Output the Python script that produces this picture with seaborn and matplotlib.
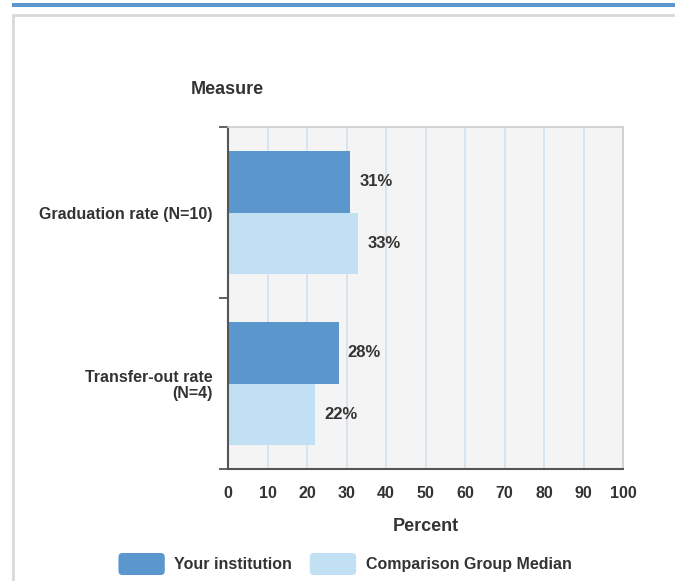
import numpy as np
import pandas as pd
import matplotlib
matplotlib.use("Agg")
import matplotlib.pyplot as plt
import seaborn as sns
from matplotlib.patches import Rectangle, FancyBboxPatch
from matplotlib.lines import Line2D
from matplotlib.legend_handler import HandlerPatch

# ─────────────────────────────────────────────
# Data
# ─────────────────────────────────────────────
MEASURES = ["Graduation rate (N=10)", "Transfer-out rate\n(N=4)"]
SERIES = ["Your institution", "Comparison Group Median"]
YOUR_VALUES = [31, 28]
COMPARISON_VALUES = [33, 22]
X_TICKS = [0, 10, 20, 30, 40, 50, 60, 70, 80, 90, 100]

COLORS = ["#5b96cc", "#c2e0f4"]
TEXT = "#333333"

df = pd.DataFrame({
    "Measure": MEASURES * 2,
    "Group": [SERIES[0]] * len(MEASURES) + [SERIES[1]] * len(MEASURES),
    "Percent": YOUR_VALUES + COMPARISON_VALUES,
})

# ─────────────────────────────────────────────
# Plot
# ─────────────────────────────────────────────
sns.set_theme(style="white")
plt.rcParams["font.family"] = ["Liberation Sans", "DejaVu Sans"]
plt.rcParams["font.weight"] = "bold"

fig = plt.figure(figsize=(6.75, 5.81), dpi=100)
ax = fig.add_axes([228 / 675, 1 - 469 / 581, 395 / 675, 342 / 581])
ax.set_facecolor("#f4f4f4")

sns.barplot(data=df, y="Measure", x="Percent", hue="Group",
            palette=COLORS, orient="h", width=0.725, saturation=1,
            edgecolor="none", linewidth=0, legend=False, ax=ax)

ax.set_xlim(0, 100)
ax.set_ylim(1.5, -0.5)
ax.set_xticks(X_TICKS)
ax.set_xticklabels([str(t) for t in X_TICKS], fontsize=11.5, fontweight="bold", color=TEXT)
ax.tick_params(axis="x", length=0, pad=12.5)
for t in X_TICKS[1:-1]:
    ax.axvline(t, color="#d3e3f1", lw=1.2, zorder=0)

ax.set_yticks(range(len(MEASURES)))
ax.set_yticklabels(MEASURES, fontsize=11.5, fontweight="bold", color=TEXT, linespacing=1.05)
ax.tick_params(axis="y", which="major", left=False, length=0, pad=11)
ax.set_yticks([-0.5, 0.5, 1.5], minor=True)
ax.tick_params(axis="y", which="minor", left=True, length=6.5, width=1.3, color="#555555")

ax.set_ylabel("")
ax.set_xlabel("Percent", fontsize=13, fontweight="bold", color=TEXT, labelpad=12)

for side in ["left", "bottom"]:
    ax.spines[side].set_color("#555555")
    ax.spines[side].set_linewidth(1.5)
for side in ["top", "right"]:
    ax.spines[side].set_color("#cccccc")
    ax.spines[side].set_linewidth(1.2)

# value labels
for container in ax.containers:
    ax.bar_label(container, labels=[f"{v:.0f}%" for v in container.datavalues],
                 padding=6.5, fontsize=12, fontweight="bold", color=TEXT)

fig.text(227 / 675, 1 - 89 / 581, "Measure", ha="center", va="center",
         fontsize=13, fontweight="bold", color=TEXT)

# page decoration: top blue band and light frame
fig.patches.append(Rectangle((12 / 675, 1 - 7 / 581), 663 / 675, 4 / 581,
                             transform=fig.transFigure, color="#5b96cc", lw=0))
fig.lines.append(Line2D([13 / 675, 13 / 675], [0, 1 - 15 / 581], transform=fig.transFigure,
                        color="#d9d9d9", lw=2))
fig.lines.append(Line2D([13 / 675, 1], [1 - 15 / 581, 1 - 15 / 581], transform=fig.transFigure,
                        color="#d9d9d9", lw=2))


# legend with rounded swatches
class RoundHandler(HandlerPatch):
    def create_artists(self, legend, orig_handle, xdescent, ydescent,
                       width, height, fontsize, trans):
        p = FancyBboxPatch((-xdescent, -ydescent), width, height,
                           boxstyle="round,pad=0,rounding_size=3",
                           facecolor=orig_handle.get_facecolor(), edgecolor="none",
                           transform=trans)
        return [p]


handles = [Rectangle((0, 0), 1, 1, facecolor=c) for c in COLORS]
leg = fig.legend(handles, SERIES, loc="center", bbox_to_anchor=(345 / 675, 1 - 564 / 581),
                 ncol=2, frameon=False, handlelength=2.9, handleheight=1.75,
                 handletextpad=0.6, columnspacing=1.1,
                 handler_map={Rectangle: RoundHandler()},
                 prop={"size": 11.5, "weight": "bold"})
for t in leg.get_texts():
    t.set_color(TEXT)

fig.savefig("out.png", dpi=100)
